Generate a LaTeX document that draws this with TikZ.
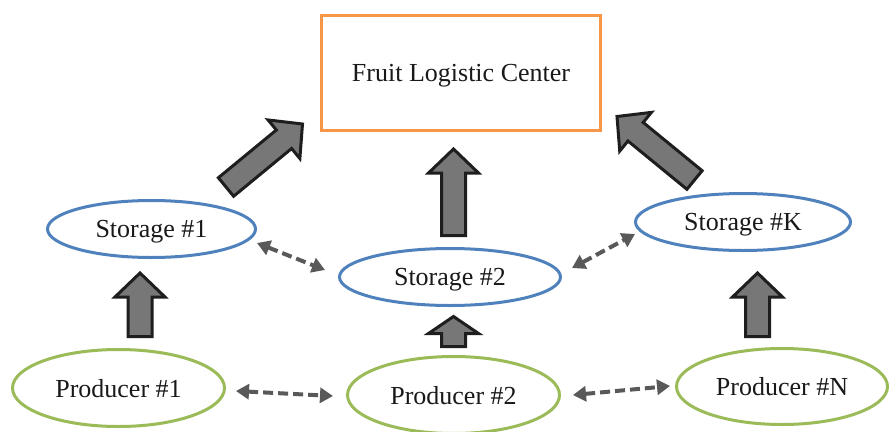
\documentclass[tikz,border=0pt]{standalone}
\usepackage{fontspec}
\setmainfont{Liberation Serif}
\usetikzlibrary{shapes.geometric,arrows.meta,calc}
\definecolor{sblue}{HTML}{4F81BD}
\definecolor{pgreen}{HTML}{9BBB59}
\definecolor{corange}{HTML}{F79646}
\definecolor{agray}{HTML}{777777}
\definecolor{aline}{HTML}{1E1E1E}
\definecolor{dgray}{HTML}{595959}
\tikzset{
  lbl/.style={font=\fontsize{26}{30}\selectfont, text=black!90, text depth=0pt},
  storage/.style={ellipse, draw=sblue, line width=3pt, inner sep=0pt, lbl},
  producer/.style={ellipse, draw=pgreen, line width=3pt, inner sep=0pt, lbl},
  center/.style={rectangle, draw=corange, line width=3pt, inner sep=0pt, lbl},
  blockarrow/.style={draw=aline, fill=agray, line width=3pt, line join=miter},
  peer/.style={draw=dgray, line width=4pt, dash pattern=on 10pt off 5pt,
    {Triangle[length=13pt,width=15pt]}-{Triangle[length=13pt,width=15pt]}}
}
\newcommand\blockarr[3]{%
  \coordinate (ba-h) at ($(#2)!#3!(#1)$);
  \draw[blockarrow] ($(#1)!12pt!90:(#2)$) -- ($(ba-h)!12pt!90:(#2)$) -- ($(ba-h)!25pt!90:(#2)$) -- (#2)
    -- ($(ba-h)!25pt!-90:(#2)$) -- ($(ba-h)!12pt!-90:(#2)$) -- ($(#1)!12pt!-90:(#2)$) -- cycle;}
\begin{document}
\begin{tikzpicture}[x=1pt,y=-1pt]
\useasboundingbox (0,0) rectangle (890,431);
% nodes
\node[center, minimum width=279pt, minimum height=115pt] (flc) at (461,73) {Fruit Logistic Center};
\node[storage, minimum width=208pt, minimum height=57pt] (s1) at (151.5,229) {Storage \#1};
\node[storage, minimum width=221pt, minimum height=57pt] (s2) at (450,277) {Storage \#2};
\node[storage, minimum width=215pt, minimum height=57pt] (sk) at (743,222) {Storage \#K};
\node[producer, minimum width=212pt, minimum height=77pt] (p1) at (118.5,388) {Producer \#1};
\node[producer, minimum width=212pt, minimum height=77pt] (p2) at (453.5,395) {Producer \#2};
\node[producer, minimum width=211pt, minimum height=76pt] (pn) at (782,386.5) {Producer \#N};
% block arrow ends
\coordinate (a1t) at (140,336.5);   \coordinate (a1h) at (140,273);
\coordinate (a2t) at (453.5,346.5); \coordinate (a2h) at (453.5,316.5);
\coordinate (a3t) at (757.5,336.5); \coordinate (a3h) at (757.5,273);
\coordinate (a4t) at (453.5,235.5); \coordinate (a4h) at (453.5,149);
\coordinate (a5t) at (226,187);     \coordinate (a5h) at (302.5,124);
\coordinate (a6t) at (694.5,180);   \coordinate (a6h) at (617,116.5);
\blockarr{a1t}{a1h}{24pt}
\blockarr{a2t}{a2h}{17pt}
\blockarr{a3t}{a3h}{24pt}
\blockarr{a4t}{a4h}{24pt}
\blockarr{a5t}{a5h}{24pt}
\blockarr{a6t}{a6h}{24pt}
% dashed peer links
\coordinate (d1a) at (257,243); \coordinate (d1b) at (325,270);
\coordinate (d2a) at (572,268); \coordinate (d2b) at (635,234);
\coordinate (d3a) at (236,391); \coordinate (d3b) at (333,396);
\coordinate (d4a) at (573,395); \coordinate (d4b) at (670,386);
\draw[peer] (d1a) -- (d1b);
\draw[peer] (d2a) -- (d2b);
\draw[peer] (d3a) -- (d3b);
\draw[peer] (d4a) -- (d4b);
\end{tikzpicture}
\end{document}
